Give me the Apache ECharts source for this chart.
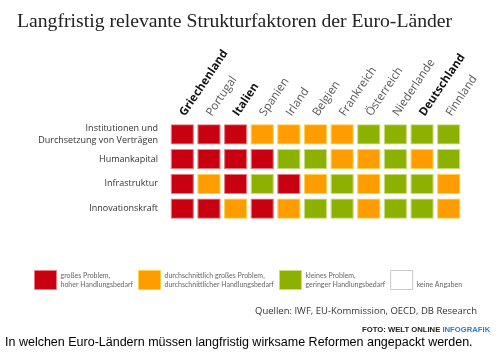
<!DOCTYPE html>
<html>
<head>
<meta charset="utf-8">
<script src="https://cdn.jsdelivr.net/npm/echarts@6/dist/echarts.min.js"></script>
<style>html,body{margin:0;padding:0;background:#fff}#c{width:500px;height:358px}</style>
</head>
<body>
<div id="c"></div>
<script>
// Data
const countries = ['Griechenland','Portugal','Italien','Spanien','Irland','Belgien','Frankreich','Österreich','Niederlande','Deutschland','Finnland'];
const boldCountries = ['Griechenland','Italien','Deutschland'];
const factors = ['Institutionen und\nDurchsetzung von Verträgen','Humankapital','Infrastruktur','Innovationskraft'];
// 3 = großes Problem, 2 = durchschnittlich, 1 = kleines Problem, 0 = keine Angaben
const institutionen   = [3,3,3,2,2,2,2,1,1,1,1];
const humankapital    = [3,3,3,3,1,1,2,2,1,2,1];
const infrastruktur   = [3,2,3,1,3,2,1,2,1,1,2];
const innovationskraft= [3,3,2,3,2,1,1,2,1,1,2];
const rows = [institutionen, humankapital, infrastruktur, innovationskraft];
const levelKeys = ['gross','mittel','klein','keine'];
const levelValues = [3,2,1,0];
const levelTexts = ['großes Problem,\nhoher Handlungsbedarf','durchschnittlich großes Problem,\ndurchschnittlicher Handlungsbedarf','kleines Problem,\ngeringer Handlungsbedarf','\nkeine Angaben'];
const levelColors = ['#c8000f','#ff9c00','#8db100','#ffffff'];
const levelBorders = ['#e87a80','#ffd24a','#c9db7a','#c8c8c8'];

const series = levelKeys.map((k, li) => {
  const data = [];
  rows.forEach((r, ri) => r.forEach((v, ci) => { if (v === levelValues[li]) data.push([ci, ri]); }));
  return {
    name: k, type: 'scatter', symbol: 'rect', symbolSize: [22, 19],
    itemStyle: { color: levelColors[li], borderColor: levelBorders[li], borderWidth: 1, opacity: 1 },
    data: data, silent: true
  };
});

const chart = echarts.init(document.getElementById('c'));
chart.setOption({
  animation: false,
  backgroundColor: '#fff',
  title: [
    { text: 'Langfristig relevante Strukturfaktoren der Euro-Länder', left: 17, top: 12, padding: 0,
      textStyle: { fontFamily: 'Liberation Serif', fontSize: 19.7, fontWeight: 'normal', color: '#222' } },
    { text: 'Quellen: IWF, EU-Kommission, OECD, DB Research', left: 255, top: 306, padding: 0,
      textStyle: { fontFamily: 'Open Sans', fontSize: 9.5, fontWeight: 'normal', color: '#333' } },
    { text: '{a|FOTO: WELT ONLINE }{b|INFOGRAFIK}', left: 362, top: 326, padding: 0,
      textStyle: { rich: {
        a: { fontFamily: 'Liberation Sans', fontSize: 7.7, fontWeight: 'bold', color: '#222' },
        b: { fontFamily: 'Liberation Sans', fontSize: 7.7, fontWeight: 'bold', color: '#2a7fd4' } } } },
    { text: 'In welchen Euro-Ländern müssen langfristig wirksame Reformen angepackt werden.', left: 5, top: 336, padding: 0,
      textStyle: { fontFamily: 'Liberation Sans', fontSize: 12.5, fontWeight: 'normal', color: '#000' } }
  ],
  grid: { left: 169, top: 122, width: 293, height: 99 },
  xAxis: {
    type: 'category', data: countries, position: 'top',
    axisLine: { show: false }, axisTick: { show: false }, splitLine: { show: false },
    axisLabel: {
      rotate: -56, margin: 7, interval: 0,
      formatter: v => boldCountries.includes(v) ? '{b|' + v + '}' : '{n|' + v + '}',
      rich: {
        b: { fontFamily: 'Open Sans', fontSize: 11.5, fontWeight: 'bold', color: '#111' },
        n: { fontFamily: 'Open Sans', fontSize: 11.5, fontWeight: 'normal', color: '#555' }
      }
    }
  },
  yAxis: {
    type: 'category', data: factors, inverse: true,
    axisLine: { show: false }, axisTick: { show: false }, splitLine: { show: false },
    axisLabel: { margin: 11, fontFamily: 'Open Sans', fontSize: 9, lineHeight: 12, color: '#333', align: 'right' }
  },
  legend: {
    left: 34, top: 270, padding: 0, itemWidth: 22, itemHeight: 19, itemGap: 5, icon: 'rect',
    selectedMode: false,
    data: levelKeys.map((k, i) => ({ name: k, itemStyle: { color: levelColors[i], borderColor: levelBorders[i], borderWidth: 1 } })),
    formatter: name => levelTexts[levelKeys.indexOf(name)],
    textStyle: { fontFamily: 'Lato', fontSize: 7, lineHeight: 9, color: '#666', padding: [0, 0, 0, -1] }
  },
  series: series
});
</script>
</body>
</html>
